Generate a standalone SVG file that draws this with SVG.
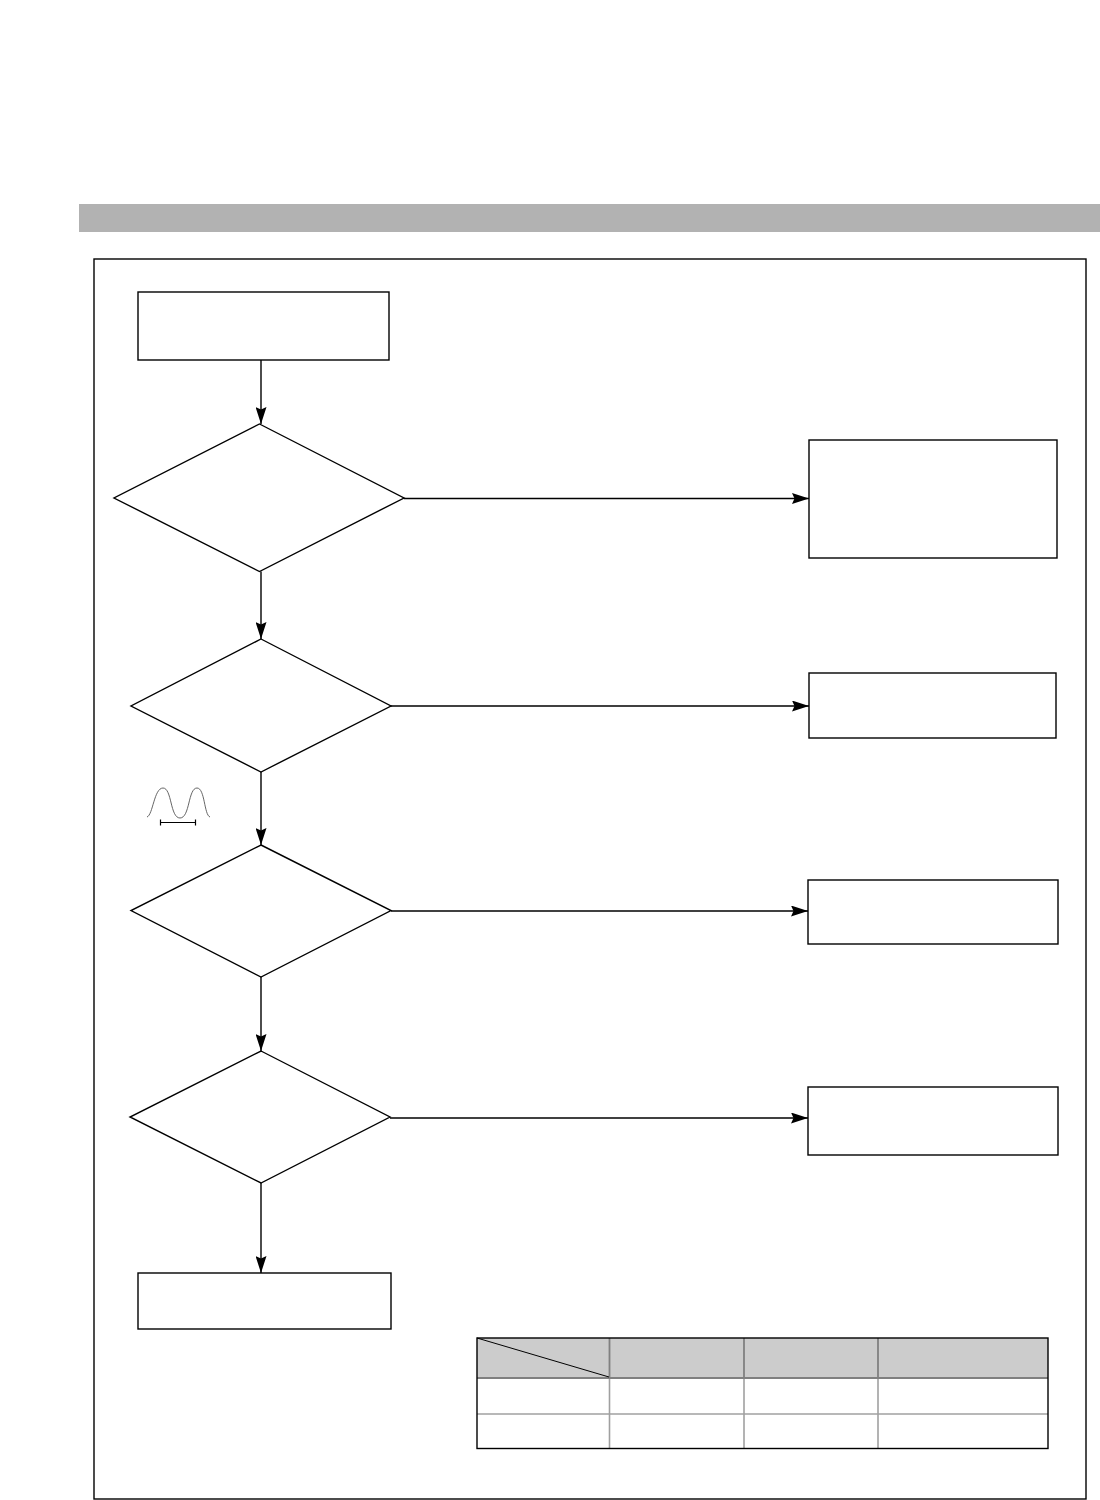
<svg xmlns="http://www.w3.org/2000/svg" width="1100" height="1500" viewBox="0 0 1100 1500">
<style>
.n{fill:#fff;stroke:#000;stroke-width:1.4}
.c{fill:none;stroke:#000;stroke-width:1.4}
.g{stroke:#a0a0a0;stroke-width:1.6}
.gd{stroke:#808080;stroke-width:1.8}
</style>
<defs>
<marker id="ah" viewBox="0 0 17 11" refX="17" refY="5.5" markerWidth="17" markerHeight="11" markerUnits="userSpaceOnUse" orient="auto">
<path d="M0,0 L17,5.5 L0,11 L2.5,5.5 Z" fill="#000"/>
</marker>
</defs>
<rect width="1100" height="1500" fill="#fff"/>
<rect id="band" x="79" y="204" width="1021" height="28" fill="#b2b2b2"/>
<rect id="frame" x="94" y="259" width="992" height="1240" fill="none" stroke="#000" stroke-width="1.4"/>
<g id="start"><rect class="n" x="138" y="292" width="251" height="68"/></g>
<g id="d1"><polygon class="n" points="259.5,424 404,498 259.5,571.5 114,498"/></g>
<g id="b1"><rect class="n" x="809" y="440" width="248" height="118"/></g>
<g id="d2"><polygon class="n" points="261,639 391,706 261,772 131,706"/></g>
<g id="b2"><rect class="n" x="809" y="673" width="247" height="65"/></g>
<g id="d3"><polygon class="n" points="261,845 391,910.5 261,977 131,910.5"/></g>
<g id="b3"><rect class="n" x="808" y="880" width="250" height="64"/></g>
<g id="d4"><polygon class="n" points="261,1051 390,1117 261,1183 130,1117"/></g>
<g id="b4"><rect class="n" x="808" y="1087" width="250" height="68"/></g>
<g id="end"><rect class="n" x="138" y="1273" width="253" height="56"/></g>
<g id="connectors">
<line class="c" x1="261" y1="360" x2="261" y2="424" marker-end="url(#ah)"/>
<line class="c" x1="404" y1="498.5" x2="809" y2="498.5" marker-end="url(#ah)"/>
<line class="c" x1="261" y1="571.5" x2="261" y2="639" marker-end="url(#ah)"/>
<line class="c" x1="391" y1="706" x2="809" y2="706" marker-end="url(#ah)"/>
<line class="c" x1="261" y1="772" x2="261" y2="845" marker-end="url(#ah)"/>
<line class="c" x1="391" y1="911" x2="808" y2="911" marker-end="url(#ah)"/>
<line class="c" x1="261" y1="977" x2="261" y2="1051" marker-end="url(#ah)"/>
<line class="c" x1="390" y1="1118" x2="808" y2="1118" marker-end="url(#ah)"/>
<line class="c" x1="261" y1="1183" x2="261" y2="1273" marker-end="url(#ah)"/>
</g>
<g id="waveform">
<path d="M147,817 C153,815 154,788 163,788 C172,788 170,818 180,818 C190,818 188,788 197,788 C205,788 204,815 210,817" fill="none" stroke="#555" stroke-width="0.9"/>
<line x1="160.5" y1="822.5" x2="195.5" y2="822.5" stroke="#000" stroke-width="1.2"/>
<line x1="160.5" y1="819.5" x2="160.5" y2="825.5" stroke="#000" stroke-width="1.2"/>
<line x1="195.5" y1="819.5" x2="195.5" y2="825.5" stroke="#000" stroke-width="1.2"/>
</g>
<g id="table">
<rect x="477" y="1338" width="571" height="40" fill="#cccccc"/>
<line class="g" x1="609.5" y1="1378" x2="609.5" y2="1448"/>
<line class="g" x1="744" y1="1378" x2="744" y2="1448"/>
<line class="g" x1="878" y1="1378" x2="878" y2="1448"/>
<line class="g" x1="477" y1="1414" x2="1048" y2="1414"/>
<line class="gd" x1="609.5" y1="1338" x2="609.5" y2="1378"/>
<line class="gd" x1="744" y1="1338" x2="744" y2="1378"/>
<line class="gd" x1="878" y1="1338" x2="878" y2="1378"/>
<line class="gd" x1="477" y1="1378" x2="1048" y2="1378"/>
<line x1="477" y1="1338" x2="609" y2="1377" stroke="#000" stroke-width="1"/>
<rect x="477" y="1338" width="571" height="110.5" fill="none" stroke="#000" stroke-width="1.4"/>
</g>
</svg>
